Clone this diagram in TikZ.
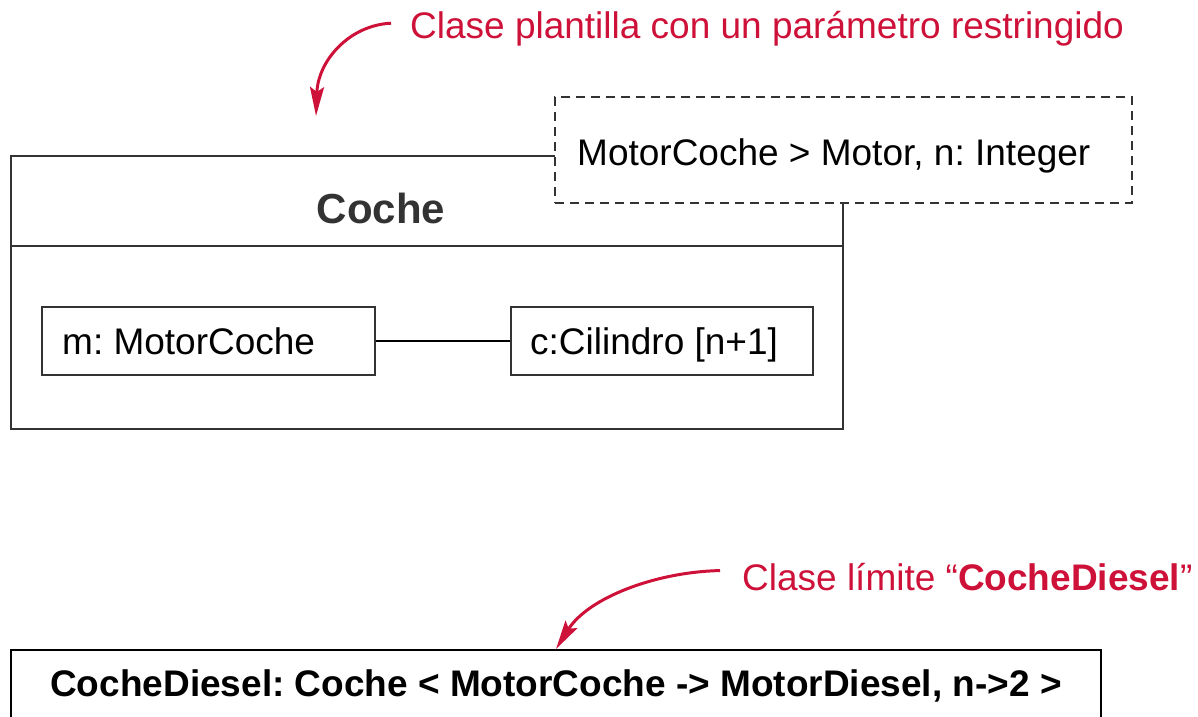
\documentclass[tikz,border=0pt]{standalone}
\usepackage{fontspec}
\setmainfont{Liberation Sans}
\usetikzlibrary{arrows.meta}
\frenchspacing
\definecolor{annred}{RGB}{206,17,56}
\definecolor{umlgray}{RGB}{51,51,51}
\tikzset{
  txt/.style={font=\fontsize{37}{44}\selectfont, inner sep=0pt},
  boldtxt/.style={font=\fontsize{37}{44}\selectfont\bfseries, inner sep=0pt},
  umlbox/.style={draw=umlgray, line width=2.5pt, fill=white, rectangle, inner sep=0pt},
  parambox/.style={draw=umlgray, dash pattern=on 9pt off 6pt, line width=2.5pt, fill=white, rectangle, inner sep=0pt},
  annarrow/.style={draw=annred, line width=3pt, -{Stealth[length=29pt,width=14pt,inset=5pt]}},
}
\begin{document}
\begin{tikzpicture}[x=1pt,y=-1pt]
\useasboundingbox (0,0) rectangle (1198,716);
\clip (0,0) rectangle (1198,716);

% class Coche
\node[umlbox, minimum width=832pt, minimum height=273pt] (coche) at (427,292.5) {};
\draw[umlgray, line width=1.6pt] (coche.west |- 0,246) -- (coche.east |- 0,246);
\node[font=\fontsize{42}{50}\selectfont\bfseries, inner sep=0pt, text=umlgray, anchor=base] (cochename) at (381,223) {Coche};

% template parameter box
\node[parambox, minimum width=577pt, minimum height=106pt] (param) at (843.5,150) {};
\node[txt, anchor=base west] (paramtxt) at (577,165) {MotorCoche > Motor, n: Integer};

% parts
\node[umlbox, line width=2pt, minimum width=333pt, minimum height=68pt] (m) at (208.5,341) {};
\node[txt, anchor=base west] (mtxt) at (62,354) {m: MotorCoche};
\node[umlbox, line width=2pt, minimum width=302pt, minimum height=68pt] (c) at (662,341) {};
\node[txt, anchor=base west] (ctxt) at (530,354) {c:Cilindro [n+1]};
\draw[black, line width=2.2pt] (m.east) -- (c.west);

% bound class
\node[draw=black, line width=2.5pt, rectangle, inner sep=0pt, minimum width=1090pt, minimum height=120pt] (diesel) at (556,710) {};
\node[boldtxt, anchor=base] (dieseltxt) at (556,696) {CocheDiesel: Coche < MotorCoche -> MotorDiesel, n->2 >};

% annotations
\node[txt, text=annred, anchor=base west] (lab1) at (410,38) {Clase plantilla con un parámetro restringido};
\coordinate (tip1) at (316,116);
\draw[annarrow] ([xshift=-19pt,yshift=5pt]lab1.west) .. controls (350,25) and (318,60) .. (tip1);

\node[txt, text=annred, anchor=base west] (lab2) at (742,590) {Clase límite “\textbf{CocheDiesel}”};
\coordinate (tip2) at (556,649);
\draw[annarrow] ([xshift=-22pt,yshift=6pt]lab2.west) .. controls (655,572) and (588,598) .. (tip2);
\end{tikzpicture}
\end{document}
